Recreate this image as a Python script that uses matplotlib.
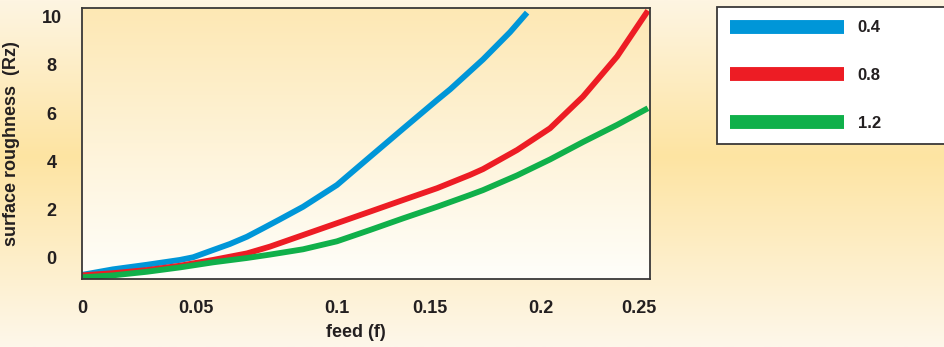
import matplotlib

matplotlib.use("Agg")
import matplotlib.pyplot as plt
import numpy as np
from matplotlib.colors import LinearSegmentedColormap

plt.rcParams["font.family"] = ["Liberation Sans Narrow", "Liberation Sans", "DejaVu Sans"]
plt.rcParams["font.weight"] = "bold"
plt.rcParams["axes.labelweight"] = "bold"

# 데이터
blue_x = [0.0, 0.0136, 0.0286, 0.0431, 0.0489, 0.0577, 0.0651, 0.0726, 0.0797, 0.0871,
          0.0973, 0.1122, 0.1268, 0.1413, 0.1563, 0.1620, 0.1765, 0.1884, 0.1959]
blue_y = [-0.70, -0.47, -0.28, -0.08, 0.03, 0.33, 0.58, 0.88, 1.23, 1.60,
          2.12, 3.02, 4.19, 5.35, 6.54, 6.98, 8.22, 9.35, 10.16]

red_x = [0.0, 0.0136, 0.0286, 0.0431, 0.0577, 0.0726, 0.0827, 0.0973, 0.1122, 0.1268,
         0.1413, 0.1563, 0.1708, 0.1765, 0.1915, 0.2060, 0.2205, 0.2355, 0.2491]
red_y = [-0.72, -0.63, -0.50, -0.32, -0.08, 0.19, 0.47, 0.95, 1.44, 1.92,
         2.40, 2.89, 3.44, 3.68, 4.47, 5.37, 6.68, 8.34, 10.24]

green_x = [0.0, 0.0136, 0.0286, 0.0431, 0.0577, 0.0726, 0.0827, 0.0973, 0.1122, 0.1268,
           0.1413, 0.1563, 0.1708, 0.1765, 0.1915, 0.2060, 0.2205, 0.2355, 0.2491]
green_y = [-0.80, -0.72, -0.57, -0.39, -0.18, 0.00, 0.14, 0.36, 0.69, 1.16,
           1.64, 2.12, 2.61, 2.81, 3.42, 4.08, 4.80, 5.51, 6.20]

series_labels = ["0.4", "0.8", "1.2"]
series_colors = ["#0096d8", "#ed1c24", "#10b04a"]

# 눈금 라벨 (원본 그림처럼 간격이 고르지 않음)
x_tick_pos = [0.0, 0.050, 0.112, 0.153, 0.202, 0.245]
x_tick_labels = ["0", "0.05", "0.1", "0.15", "0.2", "0.25"]
y_ticks = [0, 2, 4, 6, 8, 10]

fig = plt.figure(figsize=(9.45, 3.47), dpi=100)

# 배경 그라데이션
bg = fig.add_axes([0, 0, 1, 1], zorder=-10)
bg_cmap = LinearSegmentedColormap.from_list(
    "bg", [(0.0, "#fef5e2"), (0.45, "#fde4a2"), (1.0, "#fef7ea")])
bg.imshow(np.linspace(0, 1, 256).reshape(-1, 1), cmap=bg_cmap, aspect="auto",
          extent=(0, 1, 0, 1), origin="upper")
bg.set_axis_off()

ax = fig.add_axes([82 / 945, 1 - 279 / 347, 568 / 945, 271 / 347])
plot_cmap = LinearSegmentedColormap.from_list("plot", ["#fde8b4", "#fef3d8", "#fffefa"])
ax.imshow(np.linspace(0, 1, 256).reshape(-1, 1), cmap=plot_cmap, aspect="auto",
          extent=(0, 1, 0, 1), origin="upper", transform=ax.transAxes, zorder=0)

lines = []
for xs, ys, c, lab in ((blue_x, blue_y, series_colors[0], series_labels[0]),
                       (red_x, red_y, series_colors[1], series_labels[1]),
                       (green_x, green_y, series_colors[2], series_labels[2])):
    ln, = ax.plot(xs, ys, color=c, lw=4.2, label=lab, solid_joinstyle="round",
                  solid_capstyle="butt", zorder=2)
    lines.append(ln)

ax.set_xlim(0, 0.25)
ax.set_ylim(-0.87, 10.35)
ax.set_xticks(x_tick_pos)
ax.set_xticklabels(x_tick_labels)
ax.set_yticks(y_ticks)
ax.tick_params(length=0, labelsize=13, colors="#231f20")
ax.tick_params(axis="x", pad=15)
ax.tick_params(axis="y", pad=22)
for lbl in ax.get_yticklabels():
    lbl.set_horizontalalignment("center")
for sp in ax.spines.values():
    sp.set_color("#3a3838")
    sp.set_linewidth(1.3)

ax.set_ylabel("surface roughness  (Rz)", fontsize=13, color="#231f20")
ax.yaxis.set_label_coords(-62 / 568, 0.5)
ax.set_xlabel("feed (f)", fontsize=13, color="#231f20")
ax.xaxis.set_label_coords(0.482, -0.165)

leg = fig.legend(handles=lines, loc="upper left",
                 bbox_to_anchor=(717 / 945, 1 - 7 / 347, 0.3, 0), mode="expand",
                 fontsize=12, frameon=True, fancybox=False, handlelength=6.8,
                 handletextpad=0.85, labelspacing=1.97, borderpad=0.8,
                 borderaxespad=0)
leg.get_frame().set_edgecolor("#3a3838")
leg.get_frame().set_linewidth(1.3)
leg.get_frame().set_facecolor("white")
leg.get_frame().set_alpha(1)
for h in leg.legend_handles:
    h.set_linewidth(10)
for t in leg.get_texts():
    t.set_color("#231f20")

fig.savefig("out.png", dpi=100)
